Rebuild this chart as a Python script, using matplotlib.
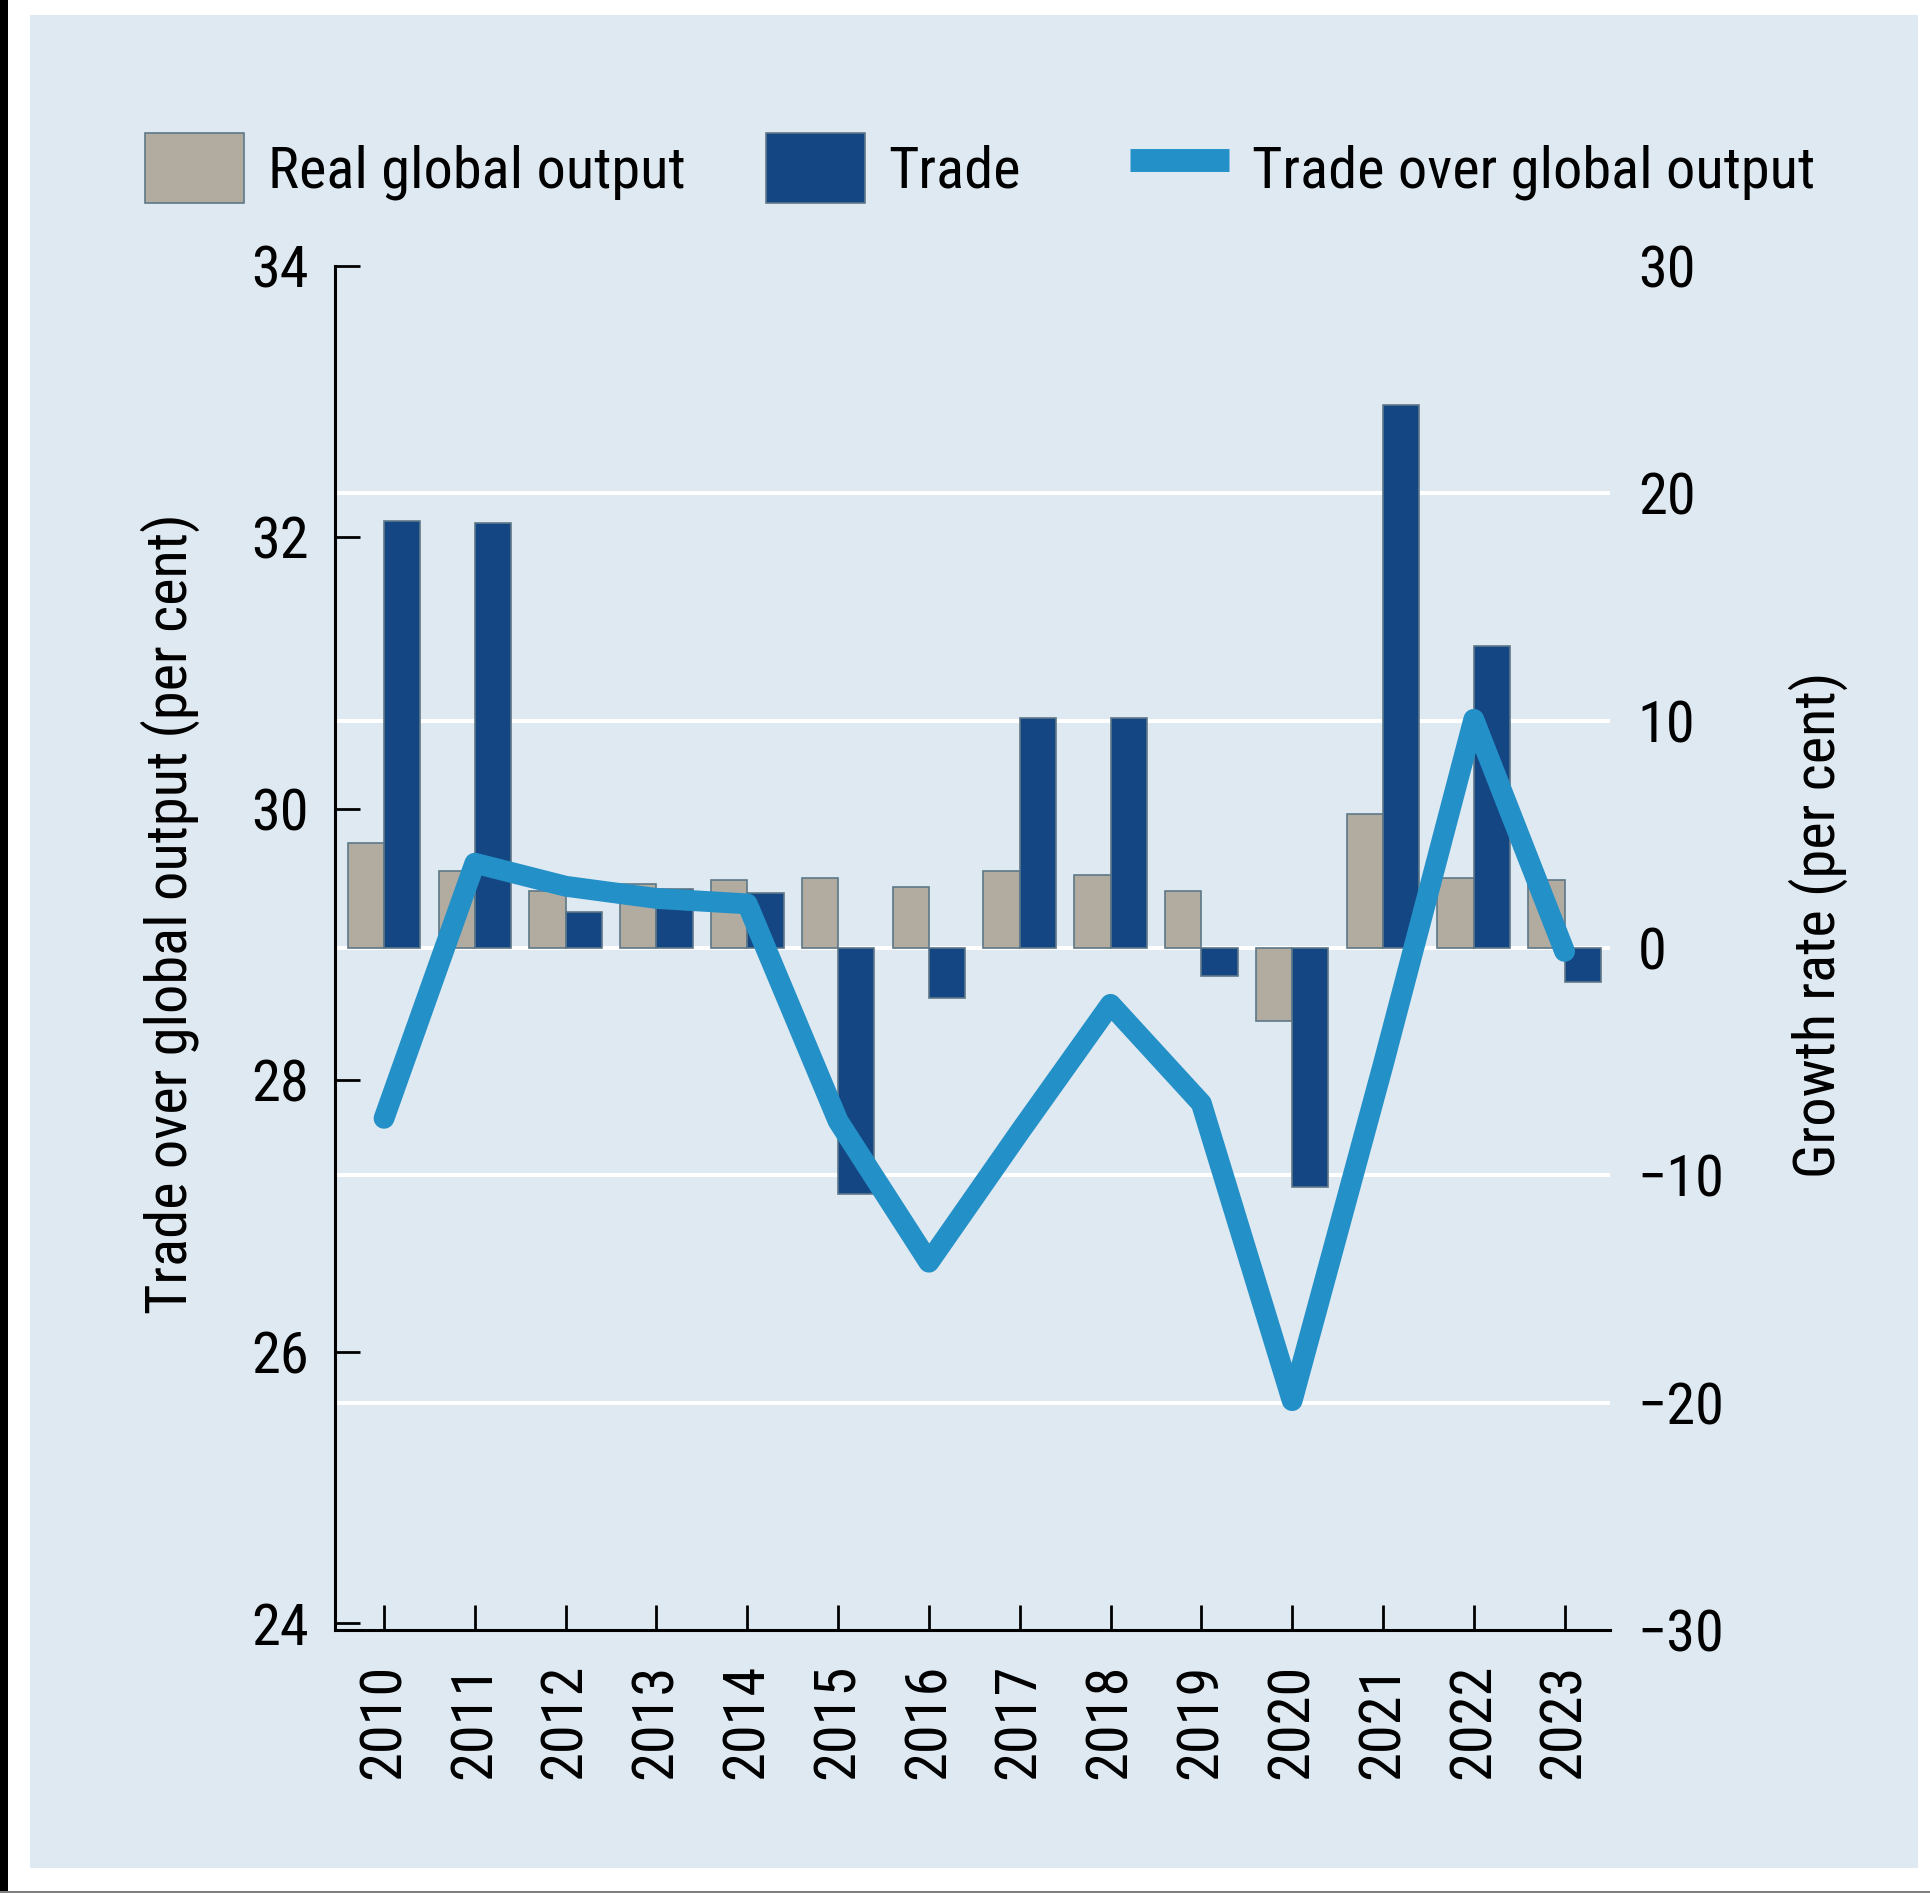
import matplotlib.pyplot as plt
from matplotlib.patches import Rectangle, Patch
from matplotlib.lines import Line2D
import numpy as np

plt.rcParams['font.family'] = ['Roboto Condensed', 'DejaVu Sans']

# Data
years = ['2010', '2011', '2012', '2013', '2014', '2015', '2016',
         '2017', '2018', '2019', '2020', '2021', '2022', '2023']
real_output = [4.6, 3.4, 2.5, 2.8, 3.0, 3.1, 2.7, 3.4, 3.2, 2.5, -3.2, 5.9, 3.1, 3.0]
trade = [18.8, 18.7, 1.6, 2.6, 2.4, -10.8, -2.2, 10.1, 10.1, -1.25, -10.5, 23.9, 13.3, -1.5]
trade_share = [27.72, 29.60, 29.43, 29.34, 29.30, 27.70, 26.66, 27.62, 28.56, 27.83,
               25.64, 28.11, 30.66, 28.95]

left_ticks = [24, 26, 28, 30, 32, 34]
right_ticks = [-30, -20, -10, 0, 10, 20, 30]
grid_vals = [-20, -10, 0, 10, 20]

# Colours
bg = '#dfe9f1'
gray = '#b2ab9f'
navy = '#154684'
edge = '#5e7888'
light_blue = '#2490c8'

W, H = 1931, 1893
fig = plt.figure(figsize=(W / 100, H / 100), dpi=100)
fig.patch.set_facecolor('white')

# Panel background and border
fig.add_artist(Rectangle((30 / W, 1 - 1868 / H), (1918 - 30) / W, (1868 - 15) / H,
                         transform=fig.transFigure, facecolor=bg, edgecolor='none', zorder=-10))
fig.add_artist(Rectangle((0, 0), 8 / W, 1, transform=fig.transFigure,
                         facecolor='black', edgecolor='none', zorder=-9))
fig.add_artist(Rectangle((0, 0), 1, 2 / H, transform=fig.transFigure,
                         facecolor='#808080', edgecolor='none', zorder=-9))

ax = fig.add_axes([335 / W, 1 - 1630 / H, (1610 - 335) / W, (1630 - 266) / H])
ax2 = ax.twinx()

x = np.arange(len(years))
bw = 0.4

# Bars on growth axis
for v in grid_vals:
    ax2.axhline(v, color='white', lw=2.9, zorder=0)
ax2.bar(x - bw / 2, real_output, width=bw, color=gray, edgecolor=edge, linewidth=1.2, zorder=2)
ax2.bar(x + bw / 2, trade, width=bw, color=navy, edgecolor=edge, linewidth=1.2, zorder=2)
ax2.set_ylim(-30, 30)
ax2.set_yticks(right_ticks)
ax2.tick_params(axis='y', length=0, pad=20, labelsize=42)
for s in ax2.spines.values():
    s.set_visible(False)
ax2.patch.set_visible(False)
ax2.set_ylabel('Growth rate (per cent)', fontsize=42, rotation=90, va='center')
ax2.yaxis.set_label_coords(1.163, 0.517)

# Line on share axis, drawn above bars
ax.set_zorder(ax2.get_zorder() + 1)
ax.patch.set_visible(False)
ax.plot(x, trade_share, color=light_blue, lw=15, solid_capstyle='round',
        solid_joinstyle='round', zorder=3)
ax.set_ylim(23.95, 34)
ax.set_yticks(left_ticks)
ax.set_xlim(-0.54, 13.5)
ax.set_xticks(x)
ax.set_xticklabels(years, rotation=90)
ax.tick_params(axis='y', direction='in', length=18, width=2, pad=19, labelsize=42)
ax.tick_params(axis='x', direction='in', length=18, width=2, pad=24, labelsize=42)
ax.spines['top'].set_visible(False)
ax.spines['right'].set_visible(False)
ax.spines['left'].set_linewidth(2.2)
ax.spines['bottom'].set_linewidth(2.2)
ax.set_ylabel('Trade over global output (per cent)', fontsize=42, va='center')
ax.yaxis.set_label_coords(-0.1294, 0.525)

# Legend, one entry per block so the uneven gaps can be kept
handles = [
    Patch(facecolor=gray, edgecolor=edge, linewidth=1.2),
    Patch(facecolor=navy, edgecolor=edge, linewidth=1.2),
    Line2D([], [], color=light_blue, lw=16.5, solid_capstyle='butt'),
]
labels = ['Real global output', 'Trade', 'Trade over global output']
legend_x = [145, 766, 1130]
for h, lab, lx in zip(handles, labels, legend_x):
    fig.legend([h], [lab], loc='center left', bbox_to_anchor=(lx / W, 1 - 168 / H),
               frameon=False, fontsize=42, handlelength=1.7, handleheight=1.45,
               handletextpad=0.4, borderpad=0, borderaxespad=0)

fig.savefig('out.png', dpi=100)
